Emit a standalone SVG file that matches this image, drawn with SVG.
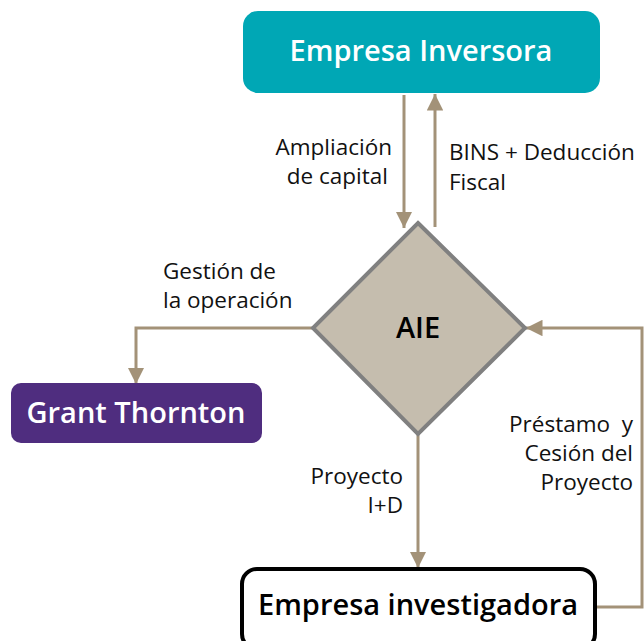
<svg xmlns="http://www.w3.org/2000/svg" width="644" height="641" viewBox="0 0 644 641">
<defs>
<style>
.lbl{font-family:"Open Sans","Liberation Sans",sans-serif;font-size:22.5px;fill:#111;white-space:pre;}
.title{font-family:"Open Sans","Liberation Sans",sans-serif;font-size:29px;font-weight:600;text-anchor:middle;}
.conn{stroke:#A39278;stroke-width:3;fill:none;}
</style>
<marker id="ah" viewBox="0 0 10 10" refX="10" refY="5" markerWidth="5.5" markerHeight="5.5" markerUnits="strokeWidth" orient="auto">
<path d="M0,0 L10,5 L0,10 Z" fill="#A39278"/>
</marker>
</defs>
<rect width="644" height="641" fill="#fff"/>
<g id="connectors">
<line class="conn" x1="404" y1="95" x2="404" y2="228" marker-end="url(#ah)"/>
<line class="conn" x1="435" y1="227" x2="435" y2="94" marker-end="url(#ah)"/>
<polyline class="conn" points="313,328 136,328 136,384" marker-end="url(#ah)"/>
<line class="conn" x1="418" y1="434" x2="418" y2="568" marker-end="url(#ah)"/>
<polyline class="conn" points="597,607 642,607 642,328 526,328" marker-end="url(#ah)"/>
</g>
<g id="labels">
<text class="lbl" text-anchor="end" x="392" y="155">Ampliación</text>
<text class="lbl" text-anchor="end" x="388" y="184">de capital</text>
<text class="lbl" x="449" y="160">BINS + Deducción</text>
<text class="lbl" x="449" y="190">Fiscal</text>
<text class="lbl" x="163" y="279">Gestión de</text>
<text class="lbl" x="163" y="308">la operación</text>
<text class="lbl" text-anchor="end" x="633" y="432">Préstamo  y</text>
<text class="lbl" text-anchor="end" x="633" y="461">Cesión del</text>
<text class="lbl" text-anchor="end" x="633" y="490">Proyecto</text>
<text class="lbl" text-anchor="end" x="403" y="484">Proyecto</text>
<text class="lbl" text-anchor="end" x="403" y="513">I+D</text>
</g>
<g id="empresa-inversora">
<rect x="243" y="11" width="357" height="82" rx="15" fill="#00A7B5"/>
<text class="title" x="421" y="61" fill="#fff">Empresa Inversora</text>
</g>
<g id="aie">
<polygon points="418,223 525,328 418,434 313,328" fill="#C5BDAE" stroke="#808080" stroke-width="4"/>
<text class="title" x="418" y="338" fill="#000">AIE</text>
</g>
<g id="grant-thornton">
<rect x="11" y="383" width="251" height="60" rx="10" fill="#4F2D7F"/>
<text class="title" x="136" y="423" fill="#fff">Grant Thornton</text>
</g>
<g id="empresa-investigadora">
<rect x="242" y="569" width="353" height="80" rx="15" fill="#fff" stroke="#000" stroke-width="4"/>
<text class="title" x="418" y="615" fill="#000">Empresa investigadora</text>
</g>
</svg>
